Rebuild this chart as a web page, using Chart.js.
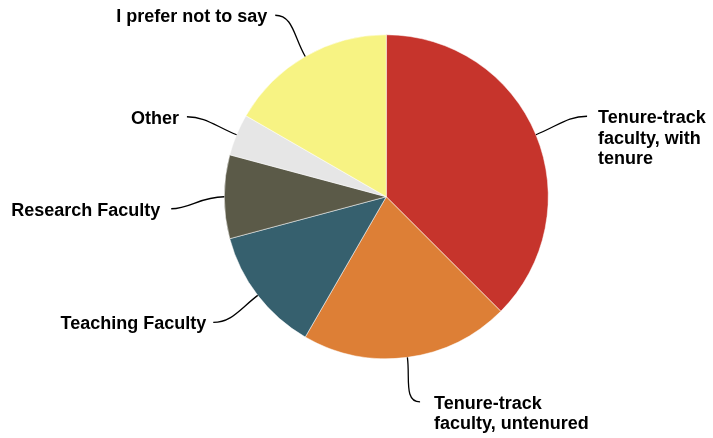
<!DOCTYPE html>
<html>
<head>
<meta charset="utf-8">
<script src="https://cdn.jsdelivr.net/npm/chart.js@4/dist/chart.umd.min.js"></script>
<style>
  html, body { margin: 0; padding: 0; background: #ffffff; }
  #wrap { width: 713px; height: 438px; }
</style>
</head>
<body>
<div id="wrap"><canvas id="c" width="713" height="438"></canvas></div>
<script>
// ---- data ----
const categories = [
  'Tenure-track faculty, with tenure',
  'Tenure-track faculty, untenured',
  'Teaching Faculty',
  'Research Faculty',
  'Other',
  'I prefer not to say'
];
const counts = [9, 5, 3, 2, 1, 4];
const labelLines = [
  ['Tenure-track', 'faculty, with', 'tenure'],
  ['Tenure-track', 'faculty, untenured'],
  ['Teaching Faculty'],
  ['Research Faculty'],
  ['Other'],
  ['I prefer not to say']
];

// ---- styles ----
const sliceColors = ['#C6342C', '#DD7F36', '#36606E', '#5B5A48', '#E6E6E6', '#F7F383'];
const labelNudge = [[4, 1], [6, -6], [-4, -4], [-2, 12], [-2.5, 1.5], [-4.5, 3]];
const textGap = [11, 14, 7, 11, 8, 8];
const FONT = 'bold 18px "Liberation Sans", Arial, sans-serif';

const leaderLabels = {
  id: 'leaderLabels',
  afterDatasetsDraw(chart) {
    const ctx = chart.ctx;
    const meta = chart.getDatasetMeta(0);
    ctx.save();
    meta.data.forEach((arc, i) => {
      const p = arc.getProps(['x', 'y', 'startAngle', 'endAngle', 'outerRadius'], true);
      const mid = (p.startAngle + p.endAngle) / 2;
      const dx = Math.cos(mid), dy = Math.sin(mid);
      const R = p.outerRadius;
      const ex = p.x + R * dx, ey = p.y + R * dy;
      const ax = p.x + R * 1.315 * dx + labelNudge[i][0];
      const ay = p.y + R * 1.315 * dy + labelNudge[i][1];
      const right = ax > p.x;
      const d = Math.hypot(ax - ex, ay - ey);
      ctx.beginPath();
      ctx.moveTo(ex, ey);
      ctx.bezierCurveTo(ex + dx * d * 0.45, ey + dy * d * 0.45,
                        ax + (right ? -1 : 1) * d * 0.35, ay,
                        ax, ay);
      ctx.strokeStyle = '#000000';
      ctx.lineWidth = 1.3;
      ctx.stroke();
      ctx.font = FONT;
      ctx.fillStyle = '#000000';
      ctx.textBaseline = 'alphabetic';
      ctx.textAlign = right ? 'left' : 'right';
      const tx = right ? ax + textGap[i] : ax - textGap[i];
      labelLines[i].forEach((line, j) => {
        ctx.fillText(line, tx, ay + 7 + j * 20.5);
      });
    });
    ctx.restore();
  }
};

new Chart(document.getElementById('c'), {
  type: 'pie',
  data: {
    labels: categories,
    datasets: [{
      data: counts,
      backgroundColor: sliceColors,
      borderColor: '#ffffff',
      borderWidth: 0.5,
      hoverOffset: 0
    }]
  },
  options: {
    responsive: false,
    animation: false,
    layout: { padding: { left: 224, right: 164.5, top: 34.5, bottom: 79 } },
    plugins: {
      legend: { display: false },
      tooltip: { enabled: false }
    }
  },
  plugins: [leaderLabels]
});
</script>
</body>
</html>
